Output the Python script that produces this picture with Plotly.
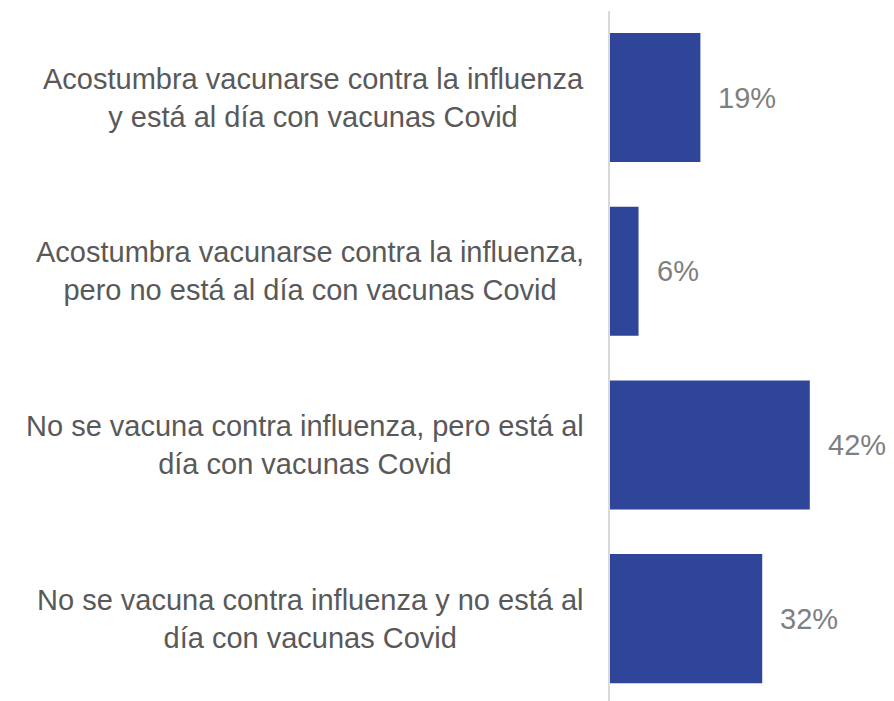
import plotly.graph_objects as go

# -- data
categories = ['Acostumbra vacunarse contra la influenza<br>y está al día con vacunas Covid',
              'Acostumbra vacunarse contra la influenza,<br>pero no está al día con vacunas Covid',
              'No se vacuna contra influenza, pero está al<br>día con vacunas Covid',
              'No se vacuna contra influenza y no está al<br>día con vacunas Covid']
values = [19, 6, 42, 32]
value_labels = ['19%', '6%', '42%', '32%']

c_bar = '#2F4599'
c_cat = '#595959'
c_val = '#7F7F7F'
font_family = 'Liberation Sans, Arial, sans-serif'

fig = go.Figure()

fig.add_trace(go.Bar(y=categories, x=values, orientation='h',
                     marker_color=c_bar, marker_line_width=0, hoverinfo='skip'))

# category labels (centered multi-line text, right edge near the axis)
for cat in categories:
    fig.add_annotation(x=0, y=cat, xref='x', yref='y', text=cat, showarrow=False,
                       xanchor='right', yanchor='middle', align='center', xshift=-24,
                       font=dict(family=font_family, size=29, color=c_cat))

# value labels at the end of each bar
for cat, val, lab in zip(categories, values, value_labels):
    fig.add_annotation(x=val, y=cat, xref='x', yref='y', text=lab, showarrow=False,
                       xanchor='left', yanchor='middle', xshift=16,
                       font=dict(family=font_family, size=29, color=c_val))

# the page body adds an 8px offset, so the figure is 8px smaller than the window
fig.update_layout(width=886, height=693, autosize=False,
                  paper_bgcolor='white', plot_bgcolor='white',
                  margin=dict(l=602, r=0, t=3, b=0, pad=0),
                  bargap=0.257, showlegend=False,
                  font=dict(family=font_family))

fig.update_xaxes(range=[0, 59.7], visible=False, fixedrange=True)
fig.update_yaxes(type='category', range=[3.474, -0.498], showticklabels=False, ticks='',
                 showgrid=False, zeroline=False, showline=True, linecolor='#D9D9D9', linewidth=2,
                 fixedrange=True)

fig.write_html("out.html")
